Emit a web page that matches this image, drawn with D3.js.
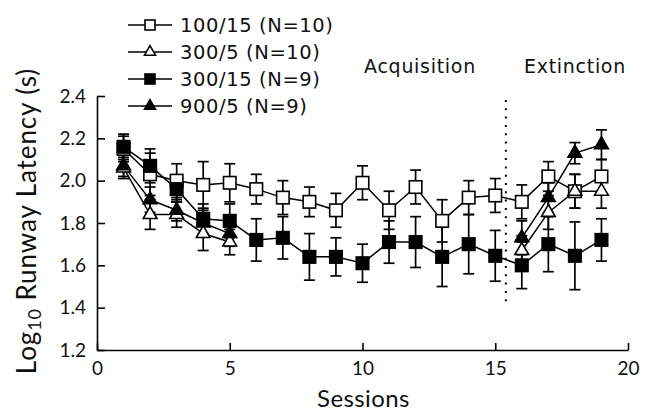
<!DOCTYPE html>
<html>
<head>
<meta charset="utf-8">
<script src="https://cdn.jsdelivr.net/npm/d3@7"></script>
<style>
  html, body { margin: 0; padding: 0; background: #fff; }
  svg { display: block; }
</style>
</head>
<body>
<svg id="chart" width="646" height="417"></svg>
<script>
// ---- data ----
const sessions = [1,2,3,4,5,6,7,8,9,10,11,12,13,14,15,16,17,18,19];

const seriesNames = ["100/15 (N=10)", "300/5 (N=10)", "300/15 (N=9)", "900/5 (N=9)"];

// 100/15 open squares
const mean100_15 = [2.15,2.03,2.00,1.98,1.99,1.96,1.92,1.90,1.86,1.99,1.86,1.97,1.81,1.92,1.93,1.90,2.02,1.95,2.02];
const err100_15  = [0.06,0.10,0.08,0.11,0.09,0.07,0.08,0.07,0.08,0.08,0.09,0.08,0.10,0.08,0.08,0.08,0.07,0.08,0.08];

// 300/5 open triangles (acquisition 1-5, extinction 16-19)
const mean300_5 = [2.06,1.84,1.84,1.75,1.71,null,null,null,null,null,null,null,null,null,null,1.67,1.85,1.95,1.95];
const err300_5  = [0.05,0.07,0.06,0.08,0.06,null,null,null,null,null,null,null,null,null,null,0.07,0.08,0.08,0.08];

// 300/15 filled squares
const mean300_15 = [2.16,2.07,1.96,1.82,1.81,1.72,1.73,1.64,1.64,1.61,1.71,1.71,1.64,1.70,1.645,1.60,1.70,1.645,1.72];
const err300_15  = [0.06,0.08,0.06,0.07,0.08,0.10,0.10,0.11,0.09,0.09,0.10,0.12,0.14,0.14,0.12,0.11,0.13,0.16,0.10];

// 900/5 filled triangles
const mean900_5 = [2.07,1.91,1.86,1.80,1.75,null,null,null,null,null,null,null,null,null,null,1.73,1.92,2.13,2.17];
const err900_5  = [0.05,0.06,0.05,0.06,0.06,null,null,null,null,null,null,null,null,null,null,0.08,0.07,0.05,0.07];

const xTicks = [0,5,10,15,20];
const yTicks = [1.2,1.4,1.6,1.8,2.0,2.2,2.4];
const phaseLabels = ["Acquisition", "Extinction"];
const phaseBoundary = 15.4;

// ---- setup ----
const svg = d3.select("#chart");
const x = d3.scaleLinear().domain([0, 20]).range([97, 628]);
const y = d3.scaleLinear().domain([1.2, 2.4]).range([350, 96]);

const series = [
  { name: seriesNames[0], mean: mean100_15, err: err100_15, shape: "square",   fill: "#fff" },
  { name: seriesNames[1], mean: mean300_5,  err: err300_5,  shape: "triangle", fill: "#fff" },
  { name: seriesNames[2], mean: mean300_15, err: err300_15, shape: "square",   fill: "#000" },
  { name: seriesNames[3], mean: mean900_5,  err: err900_5,  shape: "triangle", fill: "#000" }
];

// axes
const yAxis = d3.axisLeft(y).tickValues(yTicks).tickFormat(d3.format(".1f"))
  .tickSizeInner(-8).tickSizeOuter(0).tickPadding(11);
const gy = svg.append("g").attr("transform", `translate(${x(0)},0)`).call(yAxis);
gy.select(".domain").attr("stroke", "#000").attr("stroke-width", 1.6);
gy.selectAll(".tick line").attr("stroke", "#000").attr("stroke-width", 1.6);
gy.selectAll(".tick text").attr("font-family", "Lato, sans-serif").attr("font-size", 19).attr("fill", "#111");

const xAxis = d3.axisBottom(x).tickValues(xTicks).tickFormat(d3.format("d"))
  .tickSizeInner(-7).tickSizeOuter(0).tickPadding(12);
const gx = svg.append("g").attr("transform", `translate(0,${y(1.2)})`).call(xAxis);
gx.select(".domain").attr("stroke", "#000").attr("stroke-width", 1.6);
gx.selectAll(".tick line").attr("stroke", "#000").attr("stroke-width", 1.6);
gx.selectAll(".tick text").attr("font-family", "Lato, sans-serif").attr("font-size", 19).attr("fill", "#111");

// axis titles
svg.append("text")
  .attr("x", (x.range()[0] + x.range()[1]) / 2 + 1).attr("y", 407)
  .attr("text-anchor", "middle")
  .attr("font-family", "Lato, sans-serif").attr("font-size", 24).attr("fill", "#111")
  .attr("letter-spacing", 0.4)
  .text("Sessions");

const yt = svg.append("text")
  .attr("transform", `translate(36,221) rotate(-90)`)
  .attr("text-anchor", "middle")
  .attr("font-family", "Lato, sans-serif").attr("font-size", 26).attr("fill", "#111")
  .attr("letter-spacing", 0.9);
yt.append("tspan").text("Log");
yt.append("tspan").attr("font-size", 18).attr("dy", 5).text("10");
yt.append("tspan").attr("dy", -5).text(" Runway Latency (s)");

// phase boundary (dotted)
svg.append("line")
  .attr("x1", x(phaseBoundary)).attr("x2", x(phaseBoundary))
  .attr("y1", y(2.4) + 4).attr("y2", y(1.42))
  .attr("stroke", "#000").attr("stroke-width", 2)
  .attr("stroke-dasharray", "2,6.3");

// phase labels
svg.append("text").attr("x", 420).attr("y", 73).attr("text-anchor", "middle")
  .attr("font-family", "DejaVu Sans, sans-serif").attr("font-size", 19)
  .attr("letter-spacing", 0.7).attr("fill", "#111").text(phaseLabels[0]);
svg.append("text").attr("x", 575).attr("y", 73).attr("text-anchor", "middle")
  .attr("font-family", "DejaVu Sans, sans-serif").attr("font-size", 19)
  .attr("letter-spacing", 0.7).attr("fill", "#111").text(phaseLabels[1]);

// lines
const line = d3.line()
  .defined(d => d.m !== null)
  .x(d => x(d.s)).y(d => y(d.m));

const plot = svg.append("g");
series.forEach(sr => {
  sr.pts = sessions.map((s, i) => ({ s: s, m: sr.mean[i], e: sr.err[i] }));
});

series.forEach(sr => {
  plot.append("path").datum(sr.pts)
    .attr("d", line).attr("fill", "none")
    .attr("stroke", "#000").attr("stroke-width", 1.5);
});

// error bars
series.forEach(sr => {
  const valid = sr.pts.filter(d => d.m !== null);
  const g = plot.append("g").attr("stroke", "#000").attr("stroke-width", 1.7);
  g.selectAll("line.v").data(valid).enter().append("line")
    .attr("x1", d => x(d.s)).attr("x2", d => x(d.s))
    .attr("y1", d => y(d.m - d.e)).attr("y2", d => y(d.m + d.e));
  g.selectAll("line.t").data(valid).enter().append("line")
    .attr("x1", d => x(d.s) - 5.5).attr("x2", d => x(d.s) + 5.5)
    .attr("y1", d => y(d.m + d.e)).attr("y2", d => y(d.m + d.e));
  g.selectAll("line.b").data(valid).enter().append("line")
    .attr("x1", d => x(d.s) - 5.5).attr("x2", d => x(d.s) + 5.5)
    .attr("y1", d => y(d.m - d.e)).attr("y2", d => y(d.m - d.e));
});

// markers
const triSym = d3.symbol().type(d3.symbolTriangle);
function drawMarker(g, shape, fill, cx, cy, sz) {
  if (shape === "square") {
    g.append("rect")
      .attr("x", cx - sz / 2).attr("y", cy - sz / 2)
      .attr("width", sz).attr("height", sz)
      .attr("fill", fill).attr("stroke", "#000").attr("stroke-width", 1.6);
  } else {
    const side = sz * 1.1;
    const area = side * side * Math.sqrt(3) / 4;
    g.append("path")
      .attr("d", triSym.size(area)())
      .attr("transform", `translate(${cx},${cy})`)
      .attr("fill", fill).attr("stroke", "#000").attr("stroke-width", 1.6)
      .attr("stroke-linejoin", "miter");
  }
}
series.forEach(sr => {
  const g = plot.append("g");
  sr.pts.filter(d => d.m !== null).forEach(d => drawMarker(g, sr.shape, sr.fill, x(d.s), y(d.m), 12.5));
});

// legend
const legend = svg.append("g");
const legendBaselines = [32, 59, 86, 113];
series.forEach((sr, i) => {
  const cy = legendBaselines[i] - 7;
  legend.append("line").attr("x1", 128).attr("x2", 172).attr("y1", cy).attr("y2", cy)
    .attr("stroke", "#000").attr("stroke-width", 1.6);
  drawMarker(legend, sr.shape, sr.fill, 150, cy, 10);
  legend.append("text").attr("x", 180).attr("y", legendBaselines[i])
    .attr("font-family", "DejaVu Sans, sans-serif").attr("font-size", 19.5)
    .attr("letter-spacing", 0.6).attr("fill", "#111").text(sr.name);
});
</script>
</body>
</html>
